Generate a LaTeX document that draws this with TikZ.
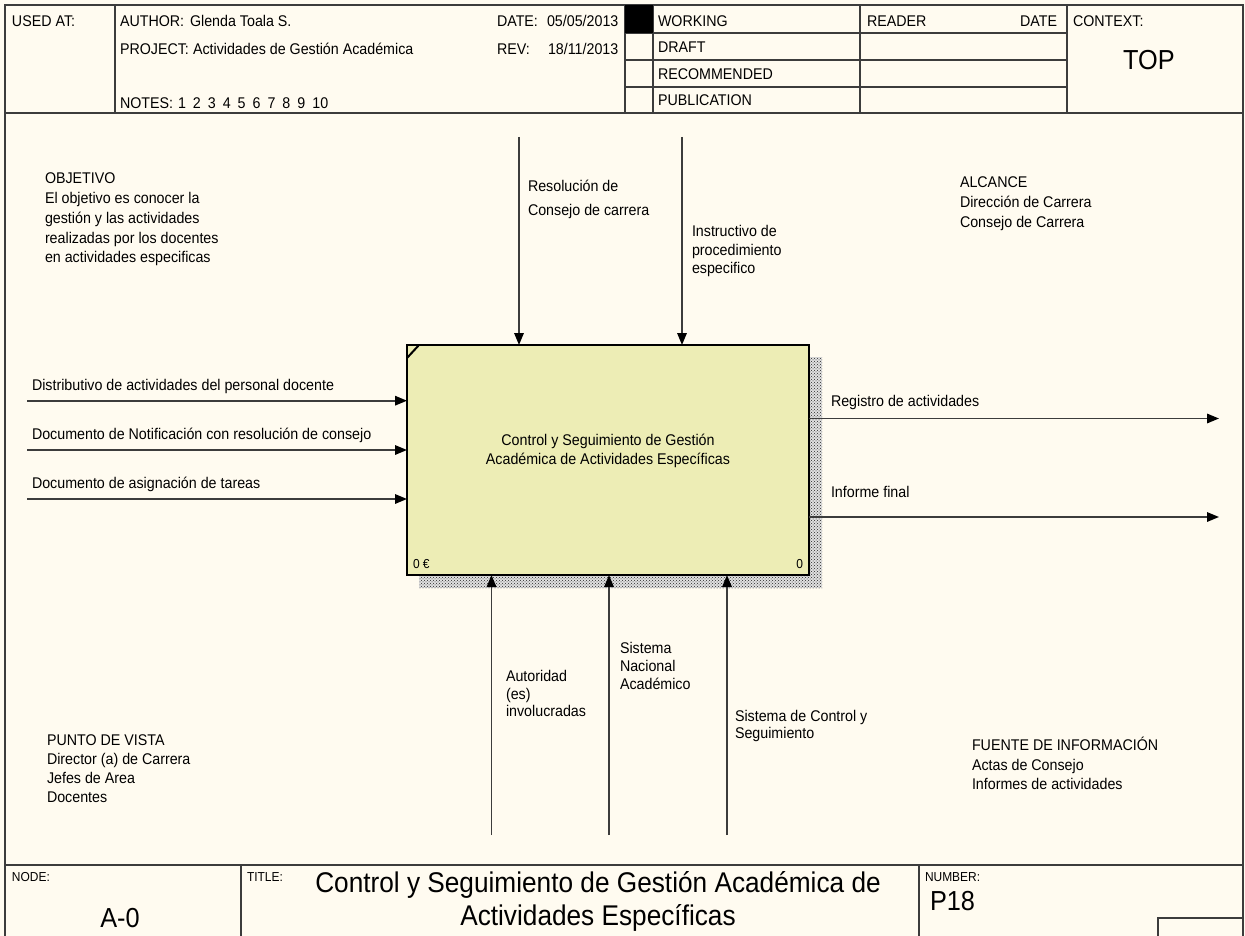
\documentclass[tikz,border=0pt]{standalone}
\usepackage{fontspec}
\setmainfont{Liberation Sans}
\newfontfamily\idf[FakeStretch=0.92]{Liberation Sans}
\usetikzlibrary{arrows.meta,patterns}
\definecolor{sheet}{RGB}{255,251,240}
\definecolor{actfill}{RGB}{237,237,181}
\definecolor{rule}{RGB}{60,60,60}

\begin{document}
\begin{tikzpicture}[x=1pt,y=-1pt,
  frame/.style={draw=rule, line width=2pt},
  txt/.style={inner sep=0pt, outer sep=0pt, text=black, font=\fontsize{15.5pt}{19.5pt}\idf},
  lbl/.style={txt, anchor=base west},
  blk/.style={txt, align=left, anchor=north west, font=\fontsize{15.5pt}{#1}\idf},
  blk/.default=19.5pt,
  small/.style={txt, anchor=base west, font=\fontsize{13pt}{15pt}\idf},
  big/.style={txt, font=\fontsize{27.5pt}{33pt}\idf},
  fnbox/.style={draw=black, line width=2.5pt, fill=actfill, inner sep=0pt, outer sep=0pt,
    minimum width=402pt, minimum height=230pt},
  flow/.style={draw=rule, line width=1.6pt, -{Triangle[length=12pt,width=9.5pt,color=black]}}
]
% sheet
\fill[sheet] (0,0) rectangle (1245,936);
\useasboundingbox (0,0) rectangle (1245,936);

% ---------- header form ----------
\draw[frame] (5,936) -- (5,5) -- (1243,5) -- (1243,936);
\draw[frame] (5,113) -- (1243,113);
\foreach \x in {115,625,653,860,1067} \draw[frame] (\x,5) -- (\x,113);
\foreach \y in {33,60,87} \draw[frame] (625,\y) -- (1067,\y);
\fill[black] (625,5) rectangle (653,33);

\node[lbl] (usedat) at (12,26.5) {USED AT:};
\node[lbl] (author) at (120,26.5) {AUTHOR:};
\node[lbl] (authorv) at (190,26.5) {Glenda Toala S.};
\node[lbl] (project) at (120,54.3) {PROJECT:};
\node[lbl] (projectv) at (193,54.3) {Actividades de Gestión Académica};
\node[lbl] (notes) at (120,108.3) {NOTES:};
\node[lbl] (notesv) at (178,108.3) {1\hspace{7pt}2\hspace{7pt}3\hspace{7pt}4\hspace{7pt}5\hspace{7pt}6\hspace{7pt}7\hspace{7pt}8\hspace{7pt}9\hspace{7pt}10};
\node[lbl] (date) at (497,26.5) {DATE:};
\node[lbl] (datev) at (547,26.5) {05/05/2013};
\node[lbl] (rev) at (497,54.3) {REV:};
\node[lbl] (revv) at (548,54.3) {18/11/2013};
\node[lbl] (working) at (658,26.5) {WORKING};
\node[lbl] (draft) at (658,52.3) {DRAFT};
\node[lbl] (recomm) at (658,79.3) {RECOMMENDED};
\node[lbl] (publ) at (658,106) {PUBLICATION};
\node[lbl] (reader) at (867,26.5) {READER};
\node[txt, anchor=base east] (rdate) at (1057,26.5) {DATE};
\node[lbl] (context) at (1073,26.5) {CONTEXT:};
\node[big, anchor=base] (top) at (1149,70) {TOP};

% ---------- footer form ----------
\draw[frame] (5,865) -- (1243,865);
\draw[frame] (241,865) -- (241,936);
\draw[frame] (919,865) -- (919,936);
\draw[frame] (1158,936) -- (1158,918) -- (1243,918);
\node[small] (nodelbl) at (12,881.5) {NODE:};
\node[big, anchor=base] (nodeid) at (120,927) {A-0};
\node[small] (titlelbl) at (247,881.5) {TITLE:};
\node[txt, font=\fontsize{28.5pt}{33pt}\idf, align=center, anchor=north] (title) at (598,871.5)
  {Control y Seguimiento de Gestión Académica de\\Actividades Específicas};
\node[small] (numlbl) at (925,881.5) {NUMBER:};
\node[big, anchor=base west] (number) at (930,910) {P18};

% ---------- free notes ----------
\node[blk=19.75pt] (objetivo) at (45,173)
  {OBJETIVO\\El objetivo es conocer la\\gestión y las actividades\\realizadas por los docentes\\en actividades especificas};
\node[blk=20pt] (alcance) at (960,176.5)
  {ALCANCE\\Dirección de Carrera\\Consejo de Carrera};
\node[blk=19pt] (vista) at (47,734.5)
  {PUNTO DE VISTA\\Director (a) de Carrera\\Jefes de Area\\Docentes};
\node[blk=19.5pt] (fuente) at (972,737.5)
  {FUENTE DE INFORMACIÓN\\Actas de Consejo\\Informes de actividades};

% ---------- activity ----------
\fill[black!12] (419,357) rectangle (822,588);
\fill[pattern=crosshatch dots, pattern color=black!85] (419,357) rectangle (822,588);
\node[fnbox] (fn) at (608,460) {};
\draw[line width=2pt] ([yshift=-13pt]fn.north west) -- ([xshift=12pt]fn.north west);
\node[txt, align=center, anchor=north, font=\fontsize{15.5pt}{19pt}\idf] (fnname) at (608,434.5)
  {Control y Seguimiento de Gestión\\Académica de Actividades Específicas};
\node[small] (cost) at (413,568) {0 €};
\node[small, anchor=base east] (fnnum) at (803,568) {0};

% inputs
\coordinate (i1) at (27,400.7);
\coordinate (i2) at (27,450);
\coordinate (i3) at (27,499);
\draw[flow] (i1) -- (i1 -| fn.west);
\draw[flow] (i2) -- (i2 -| fn.west);
\draw[flow] (i3) -- (i3 -| fn.west);
\node[lbl] (i1t) at (32,390) {Distributivo de actividades del personal docente};
\node[lbl] (i2t) at (32,439) {Documento de Notificación con resolución de consejo};
\node[lbl] (i3t) at (32,488) {Documento de asignación de tareas};

% controls
\coordinate (c1) at (519,137);
\coordinate (c2) at (682,137);
\draw[flow] (c1) -- (c1 |- fn.north);
\draw[flow] (c2) -- (c2 |- fn.north);
\node[blk=24pt] (c1t) at (528,180.5) {Resolución de\\Consejo de carrera};
\node[blk=18.5pt] (c2t) at (692,225.5) {Instructivo de\\procedimiento\\especifico};

% outputs
\coordinate (o1) at (1219,418.5);
\coordinate (o2) at (1219,517);
\draw[flow] (o1 -| fn.east) -- (o1);
\draw[flow] (o2 -| fn.east) -- (o2);
\node[lbl] (o1t) at (831,406) {Registro de actividades};
\node[lbl] (o2t) at (831,497.5) {Informe final};

% mechanisms
\coordinate (m1) at (491.5,835);
\coordinate (m2) at (609,835);
\coordinate (m3) at (727,835);
\draw[flow] (m1) -- (m1 |- fn.south);
\draw[flow] (m2) -- (m2 |- fn.south);
\draw[flow] (m3) -- (m3 |- fn.south);
\node[blk=17.5pt] (m1t) at (506,670.5) {Autoridad\\(es)\\involucradas};
\node[blk=18pt] (m2t) at (620,642.5) {Sistema\\Nacional\\Académico};
\node[blk=17pt] (m3t) at (735,710.5) {Sistema de Control y\\Seguimiento};
\end{tikzpicture}
\end{document}
